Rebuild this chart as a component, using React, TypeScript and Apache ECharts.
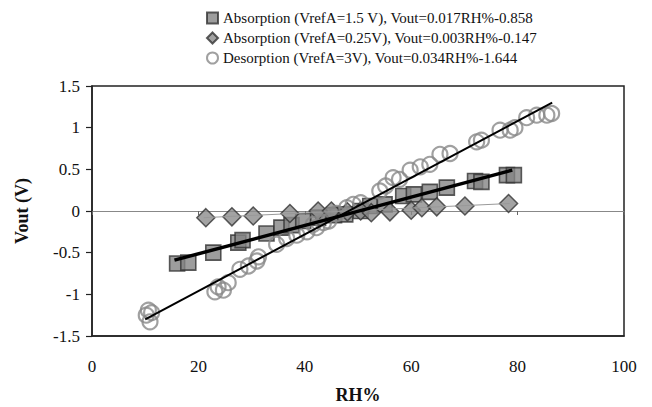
import React, { useEffect, useRef } from "react";
import * as echarts from "echarts";

const legendNames = [
  "Absorption (VrefA=1.5 V), Vout=0.017RH%-0.858",
  "Absorption (VrefA=0.25V), Vout=0.003RH%-0.147",
  "Desorption (VrefA=3V), Vout=0.034RH%-1.644",
];

const xTicks = [0, 20, 40, 60, 80, 100];

// Absorption (VrefA = 1.5 V): [RH%, Vout]
const absorption15: number[][] = [
  [16.0, -0.63], [18.1, -0.62], [22.8, -0.5], [27.5, -0.38], [28.3, -0.35],
  [32.8, -0.27], [35.6, -0.2], [37.5, -0.17], [39.7, -0.12], [42.5, -0.08],
  [45.5, -0.05], [47.6, -0.04], [50.5, 0.0], [52.3, 0.06], [55.0, 0.08],
  [58.5, 0.18], [60.5, 0.2], [63.5, 0.23], [66.7, 0.28], [72.0, 0.36],
  [73.2, 0.35], [78.0, 0.43], [79.3, 0.43],
];

// Absorption (VrefA = 0.25 V)
const absorption025: number[][] = [
  [21.4, -0.08], [26.3, -0.07], [30.3, -0.06], [37.2, -0.03], [42.5, 0.0],
  [45.0, 0.0], [48.0, -0.01], [50.5, 0.0], [52.5, -0.02], [56.0, -0.01],
  [60.0, 0.01], [62.0, 0.04], [64.8, 0.05], [70.1, 0.06], [78.3, 0.09],
];

// Desorption (VrefA = 3 V)
const desorption3: number[][] = [
  [10.2, -1.25], [10.6, -1.19], [10.9, -1.33], [11.2, -1.22],
  [23.1, -0.97], [23.7, -0.91], [24.7, -0.95], [25.6, -0.86],
  [27.8, -0.7], [29.4, -0.66], [31.0, -0.6], [31.3, -0.55],
  [34.7, -0.4], [36.6, -0.33], [38.5, -0.29], [40.4, -0.25], [41.6, -0.16],
  [42.2, -0.2], [43.5, -0.14], [44.5, -0.12], [46.0, -0.03], [47.9, 0.04],
  [49.1, 0.08], [50.5, 0.1], [54.1, 0.24], [55.2, 0.3], [56.6, 0.4],
  [57.8, 0.38], [59.8, 0.49], [61.7, 0.53], [63.5, 0.56], [65.4, 0.68],
  [67.3, 0.69], [72.3, 0.83], [73.2, 0.85], [76.7, 0.97], [78.6, 0.97],
  [79.5, 1.0], [81.7, 1.12], [83.6, 1.15], [85.5, 1.15], [86.4, 1.17],
];

// Trend line end points
const trendAbs15: number[][] = [[15.5, -0.59], [79.0, 0.49]];
const trendAbs025: number[][] = [[21.0, -0.08], [78.5, 0.09]];
const trendDes3: number[][] = [[10.0, -1.3], [86.5, 1.3]];

const FONT = "'Liberation Serif', 'Times New Roman', serif";

export default function App() {
  const ref = useRef<HTMLDivElement>(null);
  useEffect(() => {
    if (!ref.current) return;
    const chart = echarts.init(ref.current, undefined, { renderer: "svg" });
    chart.setOption({
      animation: false,
      backgroundColor: "#ffffff",
      textStyle: { fontFamily: FONT },
      legend: {
        data: legendNames,
        orient: "vertical",
        left: 201,
        top: 5,
        itemWidth: 11,
        itemHeight: 11,
        itemGap: 4,
        textStyle: { fontFamily: FONT, fontSize: 15, color: "#111", lineHeight: 16 },
      },
      grid: {
        left: 92,
        right: 28,
        top: 86,
        bottom: 71,
        outerBoundsMode: "none",
        containLabel: false,
        show: true,
        borderColor: "#222",
        borderWidth: 1.5,
      },
      xAxis: [
        {
          type: "value",
          min: xTicks[0],
          max: xTicks[xTicks.length - 1],
          interval: 20,
          name: "RH%",
          nameLocation: "middle",
          nameGap: 50,
          nameTextStyle: { fontFamily: FONT, fontSize: 18, fontWeight: "bold", color: "#111" },
          axisLine: { onZero: false, lineStyle: { color: "#222", width: 1.5 } },
          axisTick: { show: false },
          axisLabel: { margin: 22, fontFamily: FONT, fontSize: 17, color: "#111" },
          splitLine: { show: false },
        },
        {
          type: "value",
          position: "bottom",
          offset: -125,
          min: xTicks[0],
          max: xTicks[xTicks.length - 1],
          interval: 20,
          axisLine: { onZero: false, lineStyle: { color: "#888", width: 1 } },
          axisTick: { show: true, length: 4, lineStyle: { color: "#666" } },
          axisLabel: { show: false },
          splitLine: { show: false },
        },
      ],
      yAxis: {
        type: "value",
        min: -1.5,
        max: 1.5,
        interval: 0.5,
        name: "Vout (V)",
        nameLocation: "middle",
        nameGap: 61,
        nameRotate: 90,
        nameTextStyle: { fontFamily: FONT, fontSize: 18, fontWeight: "bold", color: "#111" },
        axisLine: { show: true, lineStyle: { color: "#222", width: 1.5 } },
        axisTick: { show: true, length: 6, lineStyle: { color: "#222", width: 1.2 } },
        axisLabel: { margin: 12, fontFamily: FONT, fontSize: 17, color: "#111" },
        splitLine: { show: false },
      },
      series: [
        {
          name: legendNames[0],
          type: "scatter",
          symbol: "rect",
          symbolSize: 15,
          data: absorption15,
          itemStyle: { color: "#858585", borderColor: "#333", borderWidth: 1.6 },
          z: 3,
        },
        {
          name: legendNames[1],
          type: "scatter",
          symbol: "diamond",
          symbolSize: 18,
          data: absorption025,
          itemStyle: { color: "#8c8c8c", borderColor: "#333", borderWidth: 1.5 },
          z: 4,
        },
        {
          name: legendNames[2],
          type: "scatter",
          symbol: "circle",
          symbolSize: 15,
          data: desorption3,
          itemStyle: { color: "rgba(255,255,255,0)", borderColor: "#888", borderWidth: 2.2 },
          z: 5,
        },
        {
          type: "line",
          data: trendAbs025,
          showSymbol: false,
          symbol: "none",
          lineStyle: { color: "#999", width: 1 },
          silent: true,
          z: 6,
        },
        {
          type: "line",
          data: trendAbs15,
          showSymbol: false,
          symbol: "none",
          lineStyle: { color: "#000", width: 3.5 },
          silent: true,
          z: 7,
        },
        {
          type: "line",
          data: trendDes3,
          showSymbol: false,
          symbol: "none",
          lineStyle: { color: "#000", width: 2 },
          silent: true,
          z: 7,
        },
      ],
    });
    return () => chart.dispose();
  }, []);
  return <div ref={ref} style={{ width: 652, height: 407, position: "absolute", left: 0, top: 0 }} />;
}
